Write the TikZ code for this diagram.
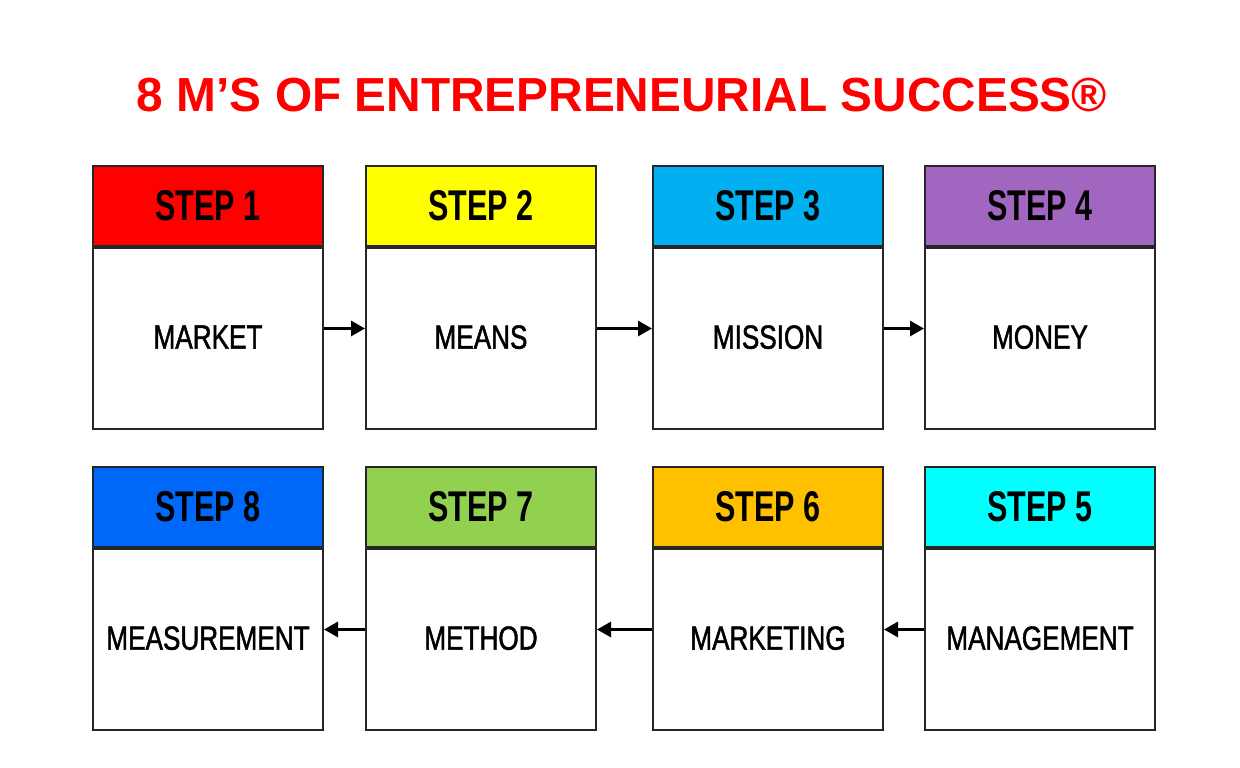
\documentclass[tikz,border=0pt]{standalone}
\usepackage{fontspec}
\setmainfont{Liberation Sans}
\newfontfamily\stepfont[FakeStretch=0.71]{Liberation Sans Bold}
\newfontfamily\bodyfont[FakeStretch=0.78,FakeBold=1.4]{Liberation Sans}
\usetikzlibrary{arrows.meta}
\definecolor{cA}{HTML}{FF0000}
\definecolor{cB}{HTML}{FFFF00}
\definecolor{cC}{HTML}{00B0F0}
\definecolor{cD}{HTML}{A066C0}
\definecolor{cE}{HTML}{00FFFF}
\definecolor{cF}{HTML}{FFC000}
\definecolor{cG}{HTML}{92D050}
\definecolor{cH}{HTML}{0068F8}
\definecolor{titlered}{HTML}{FF0000}
\begin{document}
\begin{tikzpicture}[x=1pt,y=-1pt,
  hdr/.style={draw=black!85,line width=2pt,minimum width=230pt,minimum height=80pt,inner sep=0pt,
    font=\stepfont\fontsize{43}{43}\selectfont},
  bodybox/.style={draw=black!85,line width=2pt,fill=white,minimum width=230pt,minimum height=181pt,inner sep=0pt,anchor=north,
    font=\bodyfont\fontsize{33.5}{34}\selectfont},
  flow/.style={line width=3pt,-{Triangle[length=14pt,width=15pt]}}]
\useasboundingbox (0,0) rectangle (1240,768);
\fill[white] (0,0) rectangle (1240,768);
\node[text=titlered,font=\bfseries\fontsize{47.8}{48}\selectfont] (title) at (622,95) {8 M’S OF ENTREPRENEURIAL SUCCESS®};
% row 1
\node[hdr,fill=cA] (h1) at (208,206) {\raisebox{-3pt}{STEP 1}};
\node[hdr,fill=cB] (h2) at (481,206) {\raisebox{-3pt}{STEP 2}};
\node[hdr,fill=cC] (h3) at (768,206) {\raisebox{-3pt}{STEP 3}};
\node[hdr,fill=cD] (h4) at (1040,206) {\raisebox{-3pt}{STEP 4}};
\node[bodybox] (b1) at (h1.south) {\raisebox{3pt}{MARKET}};
\node[bodybox] (b2) at (h2.south) {\raisebox{3pt}{MEANS}};
\node[bodybox] (b3) at (h3.south) {\raisebox{3pt}{MISSION}};
\node[bodybox] (b4) at (h4.south) {\raisebox{3pt}{MONEY}};
% row 2
\node[hdr,fill=cH] (h8) at (208,507) {\raisebox{-3pt}{STEP 8}};
\node[hdr,fill=cG] (h7) at (481,507) {\raisebox{-3pt}{STEP 7}};
\node[hdr,fill=cF] (h6) at (768,507) {\raisebox{-3pt}{STEP 6}};
\node[hdr,fill=cE] (h5) at (1040,507) {\raisebox{-3pt}{STEP 5}};
\node[bodybox] (b8) at (h8.south) {\raisebox{3pt}{MEASUREMENT}};
\node[bodybox] (b7) at (h7.south) {\raisebox{3pt}{METHOD}};
\node[bodybox] (b6) at (h6.south) {\raisebox{3pt}{MARKETING}};
\node[bodybox] (b5) at (h5.south) {\raisebox{3pt}{MANAGEMENT}};
% separators
\foreach \n in {h1,h2,h3,h4,h5,h6,h7,h8} {\draw[draw=black!85,line width=2pt] (\n.south west) -- (\n.south east);}
% arrows
\draw[flow] ([yshift=10pt]b1.east) -- ([yshift=10pt]b2.west);
\draw[flow] ([yshift=10pt]b2.east) -- ([yshift=10pt]b3.west);
\draw[flow] ([yshift=10pt]b3.east) -- ([yshift=10pt]b4.west);
\draw[flow] ([yshift=10pt]b5.west) -- ([yshift=10pt]b6.east);
\draw[flow] ([yshift=10pt]b6.west) -- ([yshift=10pt]b7.east);
\draw[flow] ([yshift=10pt]b7.west) -- ([yshift=10pt]b8.east);
\end{tikzpicture}
\end{document}
